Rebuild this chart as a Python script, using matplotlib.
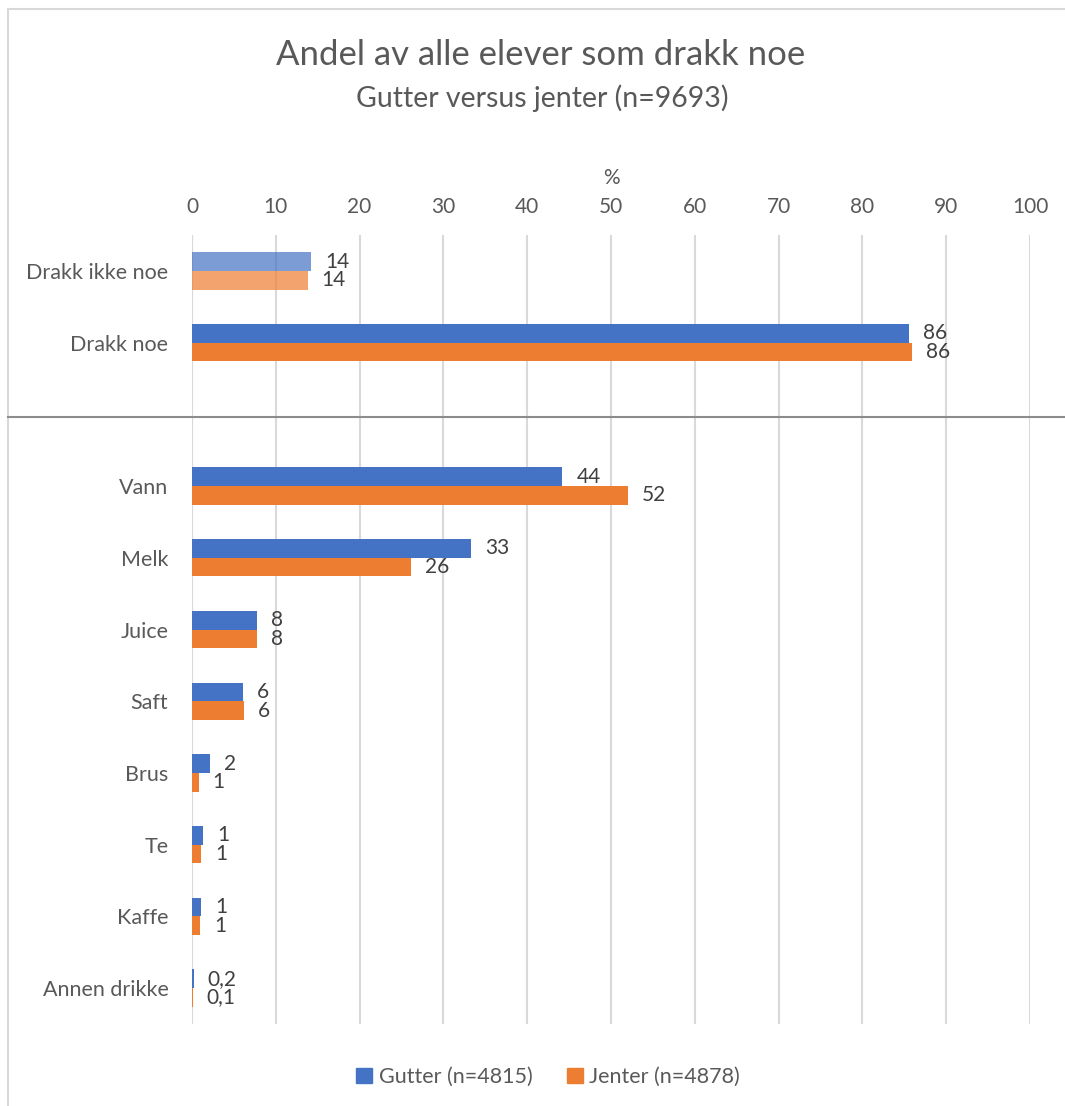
import matplotlib.pyplot as plt
from matplotlib.patches import Patch, Rectangle
from matplotlib.lines import Line2D
import numpy as np

plt.rcParams['font.family'] = ['Lato', 'DejaVu Sans']

categories = ['Drakk ikke noe', 'Drakk noe', 'Vann', 'Melk', 'Juice', 'Saft',
              'Brus', 'Te', 'Kaffe', 'Annen drikke']
gutter = [14.2, 85.6, 44.2, 33.3, 7.8, 6.1, 2.1, 1.3, 1.1, 0.2]
jenter = [13.8, 85.9, 52.0, 26.1, 7.8, 6.2, 0.8, 1.1, 1.0, 0.1]
labels_gutter = ['14', '86', '44', '33', '8', '6', '2', '1', '1', '0,2']
labels_jenter = ['14', '86', '52', '26', '8', '6', '1', '1', '1', '0,1']
xticks = np.arange(0, 101, 10)

blue = '#4472C4'
orange = '#ED7D31'
grey_text = '#595959'

W, H = 1065, 1106
fig = plt.figure(figsize=(W / 100, H / 100), dpi=100)
ax = fig.add_axes([192 / W, 1 - 1024 / H, (1030 - 192) / W, (1024 - 235) / H])

# empty slot between the two groups
ypos = np.array([i if i < 2 else i + 1 for i in range(len(categories))])
bh = 0.26

for i, y in enumerate(ypos):
    a = 0.7 if i == 0 else 1.0
    ax.barh(y - bh / 2, gutter[i], bh, color=blue, alpha=a, zorder=3)
    ax.barh(y + bh / 2, jenter[i], bh, color=orange, alpha=a, zorder=3)
    ax.annotate(labels_gutter[i], (gutter[i], y - bh / 2), xytext=(14, 0),
                textcoords='offset pixels', va='center', ha='left',
                fontsize=15, color='#404040')
    ax.annotate(labels_jenter[i], (jenter[i], y + bh / 2), xytext=(14, 0),
                textcoords='offset pixels', va='center', ha='left',
                fontsize=15, color='#404040')

ax.set_xlim(0, 100)
ax.set_ylim(10.5, -0.5)
ax.set_xticks(xticks)
ax.set_yticks(ypos)
ax.set_yticklabels(categories)
ax.xaxis.tick_top()
ax.xaxis.set_label_position('top')
ax.set_xlabel('%', fontsize=15, color=grey_text, labelpad=9)
ax.tick_params(axis='x', length=0, pad=13, labelsize=15, labelcolor=grey_text)
ax.tick_params(axis='y', length=0, pad=17, labelsize=15.5, labelcolor=grey_text)
ax.grid(axis='x', color='#D9D9D9', linewidth=1.5, zorder=0)
for s in ax.spines.values():
    s.set_visible(False)
ax.axvline(0, color='#D9D9D9', linewidth=1.5, zorder=1)

# separator line across the chart
fig.add_artist(Line2D([8 / W, 1], [1 - 417 / H, 1 - 417 / H],
                      color='#8C8C8C', linewidth=1.5))
# chart border (top and left visible)
fig.add_artist(Rectangle((8 / W, -0.1), 1.2, 1 - 9 / H + 0.1, fill=False,
                         edgecolor='#D9D9D9', linewidth=1.5))

fig.text(541 / W, 1 - 55 / H, 'Andel av alle elever som drakk noe',
         ha='center', va='center', fontsize=25, color=grey_text)
fig.text(542 / W, 1 - 98 / H, 'Gutter versus jenter (n=9693)',
         ha='center', va='center', fontsize=20.5, color=grey_text)

handles = [Patch(color=blue, label='Gutter (n=4815)'),
           Patch(color=orange, label='Jenter (n=4878)')]
fig.legend(handles=handles, loc='center', bbox_to_anchor=(548 / W, 1 - 1077 / H),
           ncol=2, frameon=False, fontsize=15.5, handlelength=0.75, handleheight=0.75,
           handletextpad=0.3, columnspacing=1.6, labelcolor=grey_text)

fig.savefig('out.png', dpi=100)
